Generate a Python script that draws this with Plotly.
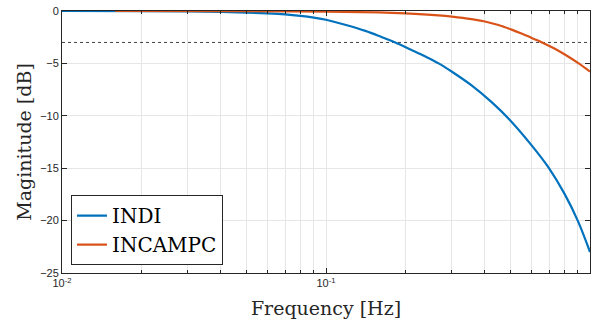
import plotly.graph_objects as go

# Frequency response magnitudes (Hz, dB)
indi_freq = [0.01, 0.02, 0.03, 0.04, 0.05, 0.06, 0.07, 0.08, 0.09, 0.1, 0.12, 0.141,
             0.163, 0.183, 0.21, 0.238, 0.267, 0.3, 0.356, 0.424, 0.497, 0.6, 0.695,
             0.803, 0.902, 1.0]
indi_mag = [0.0, -0.02, -0.05, -0.09, -0.15, -0.23, -0.33, -0.47, -0.64, -0.84, -1.36,
            -1.9, -2.5, -3.0, -3.7, -4.35, -5.0, -5.8, -7.1, -8.7, -10.4, -12.8, -14.9,
            -17.5, -20.1, -23.0]

incampc_freq = [0.0159, 0.05, 0.1, 0.158, 0.2, 0.267, 0.3, 0.356, 0.4, 0.45, 0.505,
                0.55, 0.583, 0.655, 0.73, 0.803, 0.9, 1.0]
incampc_mag = [0.0, -0.02, -0.07, -0.13, -0.22, -0.41, -0.53, -0.77, -1.0, -1.34,
               -1.78, -2.15, -2.42, -2.97, -3.55, -4.15, -4.95, -5.78]

# -3 dB bandwidth reference
cutoff_db = -3
freq_span = [0.01, 1.0]

x_tickvals = [0.01, 0.1, 1.0]
x_ticktext = ["10<sup>-2</sup>", "10<sup>-1</sup>", "10"]
x_minor = [k * 10 ** e for e in (-2, -1) for k in range(2, 10)]
y_tickvals = [0, -5, -10, -15, -20, -25]

BLUE = "#0072BD"
ORANGE = "#D95319"
AXIS = "#262626"
GRID = "#e6e6e6"
SERIF = "DejaVu Serif"
SANS = "Liberation Sans"

fig = go.Figure()
fig.add_trace(go.Scatter(x=freq_span, y=[cutoff_db, cutoff_db], mode="lines",
                         line=dict(color="#404040", width=1, dash="3px,3px"),
                         showlegend=False, hoverinfo="skip"))
fig.add_trace(go.Scatter(x=indi_freq, y=indi_mag, mode="lines", name="INDI",
                         line=dict(color=BLUE, width=2.2, shape="spline", smoothing=1)))
fig.add_trace(go.Scatter(x=incampc_freq, y=incampc_mag, mode="lines", name="INCAMPC",
                         line=dict(color=ORANGE, width=2.2, shape="spline", smoothing=1)))

fig.update_layout(
    width=596, height=324,
    margin=dict(l=62, r=5, t=9, b=51),
    paper_bgcolor="white", plot_bgcolor="white",
    font=dict(family=SANS, size=11, color=AXIS),
    legend=dict(x=0.017, y=0.03, xanchor="left", yanchor="bottom",
                bgcolor="white", bordercolor=AXIS, borderwidth=1,
                font=dict(family=SERIF, size=20, color="black"),
                tracegroupgap=0, itemwidth=30),
)
fig.update_xaxes(
    type="log", range=[-2, 0],
    tickvals=x_tickvals, ticktext=x_ticktext,
    ticks="inside", ticklen=5, tickcolor=AXIS,
    showline=True, linecolor=AXIS, linewidth=1, mirror="ticks",
    showgrid=True, gridcolor=GRID, gridwidth=1, zeroline=False,
    minor=dict(tickvals=x_minor, ticks="inside", ticklen=3, tickcolor=AXIS,
               showgrid=True, gridcolor=GRID, gridwidth=1),
    tickfont=dict(family=SANS, size=11, color=AXIS),
    title=dict(text="Frequency [Hz]", font=dict(family=SERIF, size=19, color=AXIS),
               standoff=13),
)
fig.update_yaxes(
    range=[-25, 0],
    tickvals=y_tickvals,
    ticks="inside", ticklen=5, tickcolor=AXIS,
    showline=True, linecolor=AXIS, linewidth=1, mirror="ticks",
    showgrid=True, gridcolor=GRID, gridwidth=1, zeroline=False,
    tickfont=dict(family=SANS, size=11, color=AXIS),
    title=dict(text="Maginitude [dB]", font=dict(family=SERIF, size=19, color=AXIS),
               standoff=3),
)

fig.write_html("out.html")
